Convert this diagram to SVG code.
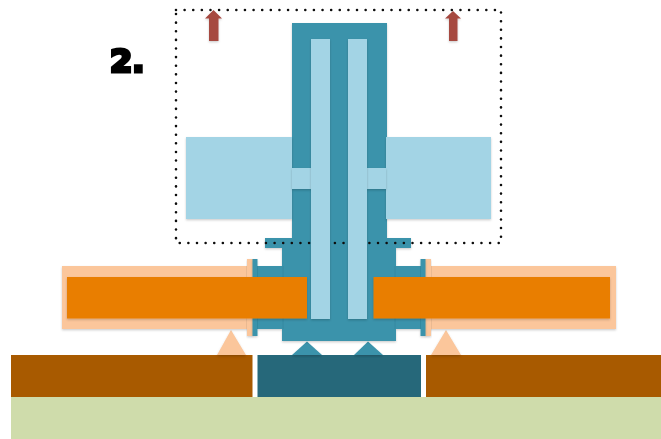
<svg xmlns="http://www.w3.org/2000/svg" width="661" height="439" viewBox="0 0 661 439">
<defs>
<filter id="soft" x="-2%" y="-2%" width="104%" height="104%"><feGaussianBlur stdDeviation="0.4"/></filter>
<filter id="sh" x="-10%" y="-10%" width="120%" height="125%"><feDropShadow dx="0" dy="1.2" stdDeviation="0.9" flood-color="#000" flood-opacity="0.2"/></filter>
</defs>
<style>
.main{fill:#3a93ab;filter:url(#sh)}
.seam{stroke:#2f8299;stroke-width:1;fill:none;opacity:.6}
.light{fill:#a3d4e5;filter:url(#sh)}
.orange{fill:#e97e04;filter:url(#sh)}
.pale{fill:#fbc69b;filter:url(#sh)}
.brown{fill:#a85a00}
.deep{fill:#26687a}
.arrow{fill:#a64840;filter:url(#sh)}
.dots{fill:none;stroke:#111;stroke-width:2.6;stroke-linecap:round;stroke-dasharray:0 8.62}
.num{font-family:"DejaVu Sans",sans-serif;font-weight:700;font-size:32px;fill:#000;stroke:#000;stroke-width:3.2;stroke-linejoin:miter}
</style>
<rect width="661" height="439" fill="#fff"/>
<g filter="url(#soft)">
<g id="ground"><rect x="11" y="397" width="650" height="42" fill="#cfdcab"/></g>
<g id="base-left"><rect class="brown" x="11" y="355" width="241.500" height="42"/></g>
<g id="base-right"><rect class="brown" x="426" y="355" width="235" height="42"/></g>
<g id="base-center"><rect class="deep" x="257.500" y="355" width="163.500" height="42"/></g>
<g id="support-left"><polygon class="pale" points="231,330 246,355 217,355"/></g>
<g id="support-right"><polygon class="pale" points="446,330 461,355 431,355"/></g>
<g id="pivot-left"><polygon class="main" points="307,341.500 322,355 292,355"/></g>
<g id="pivot-right"><polygon class="main" points="368,341.500 383,355 354,355"/></g>
<g id="pale-left">
<rect class="pale" x="62" y="266" width="186" height="63"/>
<rect class="pale" x="247" y="259" width="6" height="77"/>
</g>
<g id="pale-right">
<rect class="pale" x="430" y="266" width="186" height="63"/>
<rect class="pale" x="425" y="259" width="6" height="77"/>
</g>
<g id="column">
<polygon class="main" points="292,23 387,23 387,238 411,238 411,248 396,248 396,266 420.500,266 420.500,259 425.500,259 425.500,336 420.500,336 420.500,329 396,329 396,341 282,341 282,329 257.500,329 257.500,336 252.500,336 252.500,259 257.500,259 257.500,266 282,266 282,248 265,248 265,238 292,238"/>
<path class="seam" d="M257.500 266V329M420.500 266V329M283 266V329M395 266V329"/>
</g>
<g id="wing-left"><rect class="light" x="186" y="137" width="106" height="82"/></g>
<g id="wing-right"><rect class="light" x="386" y="137" width="105" height="82"/></g>
<g id="boundary"><rect class="dots" x="176" y="10" width="325" height="233"/></g>
<g id="slots">
<rect class="light" x="292" y="168" width="19" height="21"/>
<rect class="light" x="367" y="168" width="19" height="21"/>
<rect class="light" x="311" y="39" width="19" height="280"/>
<rect class="light" x="348" y="39" width="19" height="280"/>
</g>
<g id="bar-left"><rect class="orange" x="67" y="277" width="240" height="41.500"/></g>
<g id="bar-right"><rect class="orange" x="373.500" y="277" width="236.500" height="41.500"/></g>
<g id="lift-left"><polygon class="arrow" points="213.500,10 222,18.500 218.500,18.500 218.500,41 209,41 209,18.500 205,18.500"/></g>
<g id="lift-right"><polygon class="arrow" points="453,11 461,18.500 457.500,18.500 457.500,41 449,41 449,18.500 445,18.500"/></g>
<g id="label"><text class="num" x="110" y="72">2.</text></g>
</g>
</svg>
